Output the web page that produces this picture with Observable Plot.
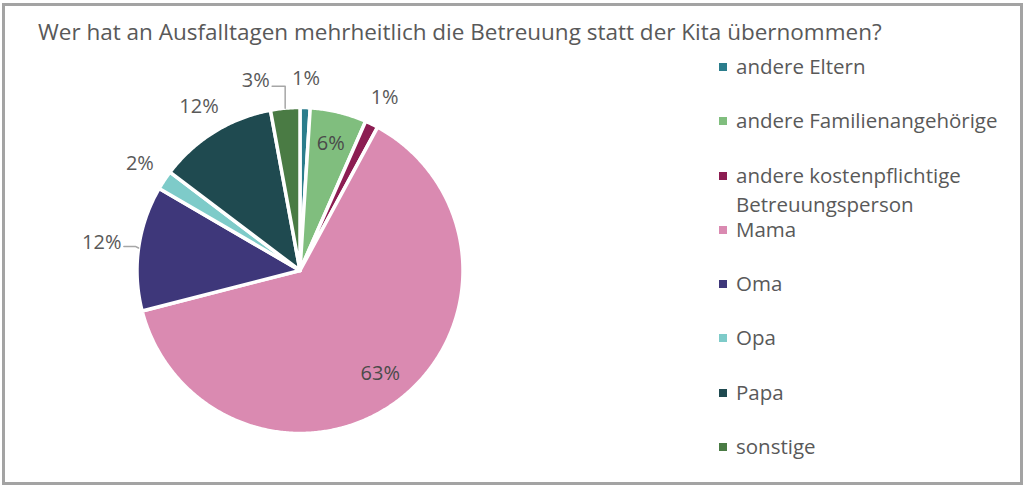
<!DOCTYPE html>
<html>
<head>
<meta charset="utf-8">
<script src="https://cdn.jsdelivr.net/npm/d3@7"></script>
<script src="https://cdn.jsdelivr.net/npm/@observablehq/plot@0.6"></script>
<style>
  body { margin: 0; background: #fff; width: 1024px; height: 488px; overflow: hidden; font-family: "Open Sans", Lato, sans-serif; }
  #frame { position: absolute; left: 2px; top: 3px; width: 1015px; height: 476px; border: 3px solid #a3a3a3; }
  #title { position: absolute; left: 38px; top: 17px; font-size: 22.5px; color: #595959; white-space: nowrap; line-height: 30px; }
  #chart { position: absolute; left: 0; top: 60px; }
  #legend { position: absolute; left: 719px; top: 53px; width: 300px; }
  .item { position: relative; height: 54.3px; }
  .sw { position: absolute; left: 0; top: 10px; width: 8px; height: 8px; }
  .lab { position: absolute; left: 17px; top: -1px; width: 285px; font-size: 20.5px; line-height: 29px; color: #595959; }
</style>
</head>
<body>
<div id="frame"></div>
<div id="title">Wer hat an Ausfalltagen mehrheitlich die Betreuung statt der Kita übernommen?</div>
<div id="chart"></div>
<div id="legend"></div>
<script>
// ---- data ----
const categories = ["andere Eltern", "andere Familienangehörige", "andere kostenpflichtige Betreuungsperson", "Mama", "Oma", "Opa", "Papa", "sonstige"];
const shares = [1.0, 5.6, 1.3, 63.1, 12.4, 1.9, 11.8, 2.9];
const colors = ["#2b7d8c", "#80be7e", "#8c1d52", "#da8ab1", "#3e377a", "#7ecbc9", "#1f4a50", "#4a7b44"];
// label placement style: "in" inside, "out" outside, "callout" with leader line
const labelPlacement = ["out", "in", "out", "in", "calloutLeft", "out", "out", "calloutUp"];

// ---- geometry from data ----
const total = d3.sum(shares);
let cum = 0;
const slices = categories.map((c, i) => {
  const a0 = cum / total * 2 * Math.PI;
  cum += shares[i];
  const a1 = cum / total * 2 * Math.PI;
  return {c, v: shares[i], a0, a1, mid: (a0 + a1) / 2, place: labelPlacement[i]};
});
const pts = [];
for (const s of slices) {
  pts.push({c: s.c, x: 0, y: 0});
  const n = Math.max(2, Math.ceil((s.a1 - s.a0) / (Math.PI / 360)));
  for (let k = 0; k <= n; k++) {
    const a = s.a0 + (s.a1 - s.a0) * k / n;
    pts.push({c: s.c, x: Math.sin(a), y: Math.cos(a)});
  }
  pts.push({c: s.c, x: 0, y: 0});
}
const fmt = v => Math.round(v / total * 100) + "%";
const inLabels = slices.filter(s => s.place === "in").map(s => ({x: 0.8 * Math.sin(s.mid), y: 0.8 * Math.cos(s.mid), t: fmt(s.v), c: s.c}));
const outLabels = slices.filter(s => s.place === "out").map(s => ({x: 1.18 * Math.sin(s.mid), y: 1.18 * Math.cos(s.mid), t: fmt(s.v)}));
const leaders = [];
const calloutLabels = [];
for (const s of slices) {
  const ax = Math.sin(s.mid), ay = Math.cos(s.mid);
  if (s.place === "calloutUp") {
    leaders.push({g: s.c, x: ax, y: ay}, {g: s.c, x: ax, y: 1.13}, {g: s.c, x: ax - 0.08, y: 1.13});
    calloutLabels.push({x: ax - 0.095, y: 1.165, t: fmt(s.v)});
  } else if (s.place === "calloutLeft") {
    leaders.push({g: s.c, x: ax, y: ay}, {g: s.c, x: ax - 0.02, y: ay + 0.01}, {g: s.c, x: ax - 0.09, y: ay + 0.01});
    calloutLabels.push({x: ax - 0.105, y: ay + 0.035, t: fmt(s.v)});
  }
}

const R = 163, cx = 299.5, cy = 210, W = 680, H = 420;
const chart = Plot.plot({
  width: W, height: H,
  marginLeft: cx - R, marginRight: W - cx - R,
  marginTop: cy - R, marginBottom: H - cy - R,
  x: {domain: [-1, 1], axis: null},
  y: {domain: [-1, 1], axis: null},
  color: {domain: categories, range: colors},
  style: {fontFamily: "'Open Sans', Lato, sans-serif", overflow: "visible"},
  marks: [
    Plot.line(pts, {x: "x", y: "y", z: "c", fill: "c", stroke: "white", strokeWidth: 3.5, strokeLinejoin: "round"}),
    Plot.line(leaders, {x: "x", y: "y", z: "g", stroke: "#a6a6a6", strokeWidth: 1.5}),
    Plot.text(inLabels, {x: "x", y: "y", text: "t", fontSize: 20, fill: "#4a4a4a"}),
    Plot.text(outLabels, {x: "x", y: "y", text: "t", fontSize: 20, fill: "#595959"}),
    Plot.text(calloutLabels, {x: "x", y: "y", text: "t", fontSize: 20, fill: "#595959", textAnchor: "end"})
  ]
});
document.getElementById("chart").appendChild(chart);

const legend = document.getElementById("legend");
categories.forEach((c, i) => {
  const item = document.createElement("div");
  item.className = "item";
  item.innerHTML = `<div class="sw" style="background:${colors[i]}"></div><div class="lab">${c}</div>`;
  legend.appendChild(item);
});
</script>
</body>
</html>
